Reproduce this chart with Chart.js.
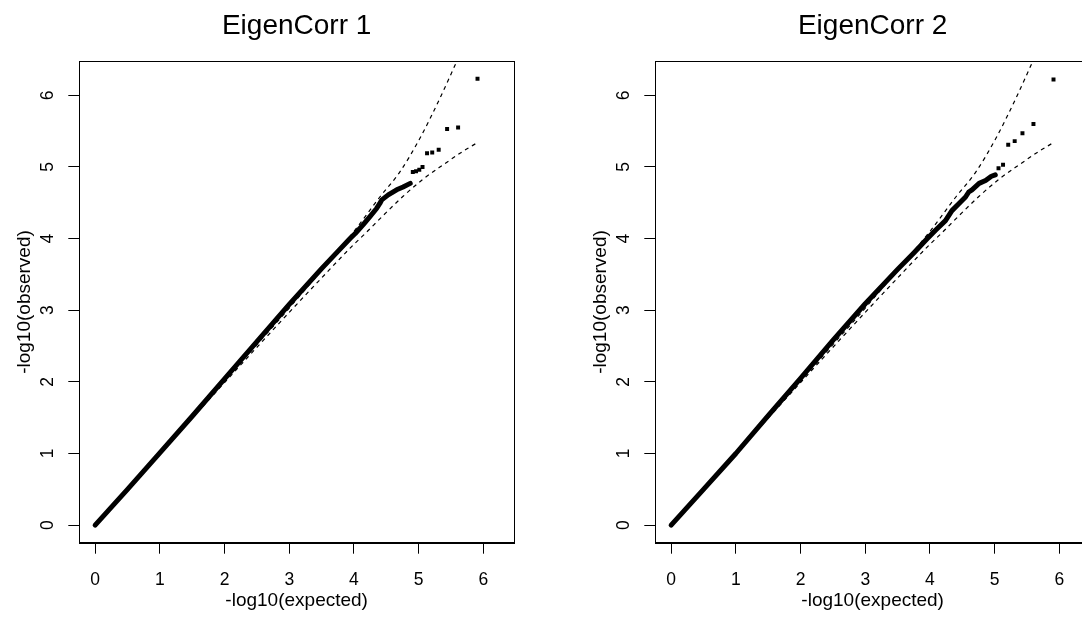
<!DOCTYPE html>
<html>
<head>
<meta charset="utf-8">
<script src="https://cdn.jsdelivr.net/npm/chart.js@4.4.1/dist/chart.umd.min.js"></script>
<style>
  html, body { margin: 0; padding: 0; background: #fff; width: 1082px; height: 624px; overflow: hidden; }
  .panel { position: absolute; top: 0; }
</style>
</head>
<body>
<canvas id="c1" class="panel" width="541" height="624" style="left:0px"></canvas>
<canvas id="c2" class="panel" width="541" height="624" style="left:576px"></canvas>
<script>
// ---- data ----
const panelTitles = ['EigenCorr 1', 'EigenCorr 2'];
const tickValues = [0, 1, 2, 3, 4, 5, 6];
const xLabel = '-log10(expected)';
const yLabel = '-log10(observed)';

// 95% confidence band (dashed), same in both panels
const ciUpperExp = [0, 1, 2, 2.5, 3, 3.5, 4.0, 4.4, 4.71, 5.02, 5.33, 5.59];
const ciUpperObs = [0, 1.0, 2.01, 2.52, 3.03, 3.56, 4.10, 4.58, 4.93, 5.40, 5.96, 6.474];
const ciLowerExp = [0, 2, 3, 3.5, 4.0, 4.14, 4.45, 4.76, 5.07, 5.38, 5.69, 5.91];
const ciLowerObs = [0, 1.99, 2.97, 3.45, 3.92, 4.04, 4.32, 4.59, 4.83, 5.03, 5.22, 5.34];

// Panel 1 observed (dense run and separate tail points)
const p1DenseExp = [0, 0.5, 1, 1.5, 2, 2.5, 3, 3.5, 3.73, 3.94, 4.02, 4.14, 4.25, 4.35, 4.40, 4.43, 4.53, 4.66, 4.76, 4.87];
const p1DenseObs = [0, 0.5, 1.01, 1.52, 2.04, 2.56, 3.08, 3.58, 3.80, 4.0, 4.07, 4.19, 4.31, 4.42, 4.49, 4.54, 4.61, 4.68, 4.72, 4.77];
const p1TailExp = [4.91, 4.96, 5.01, 5.06, 5.13, 5.21, 5.31, 5.44, 5.61, 5.91];
const p1TailObs = [4.93, 4.94, 4.96, 5.00, 5.19, 5.20, 5.24, 5.53, 5.55, 6.23];

// Panel 2 observed
const p2DenseExp = [0, 0.5, 1, 1.5, 2, 2.5, 3, 3.5, 3.75, 3.96, 4.09, 4.24, 4.34, 4.45, 4.55, 4.60, 4.65, 4.76, 4.86, 4.95, 5.01];
const p2DenseObs = [0, 0.5, 1.0, 1.53, 2.05, 2.58, 3.09, 3.57, 3.80, 4.0, 4.12, 4.25, 4.39, 4.49, 4.58, 4.65, 4.68, 4.77, 4.81, 4.87, 4.89];
const p2TailExp = [5.06, 5.13, 5.21, 5.31, 5.43, 5.60, 5.91];
const p2TailObs = [4.98, 5.03, 5.31, 5.36, 5.47, 5.60, 6.22];

const axisMin = -0.245, axisMax = 6.474;

// ---- helpers ----
const FONT = "'Liberation Sans', Arial, Helvetica, sans-serif";
const pts = (xs, ys) => xs.map((x, i) => ({ x: x, y: ys[i] }));

const boxPlugin = {
  id: 'box',
  afterDatasetsDraw(chart) {
    const a = chart.chartArea, ctx = chart.ctx;
    ctx.save();
    ctx.strokeStyle = '#000';
    ctx.lineWidth = 1;
    ctx.strokeRect(Math.round(a.left) + 0.5, Math.round(a.top) + 0.5,
                   Math.round(a.right) - Math.round(a.left), Math.round(a.bottom) - Math.round(a.top));
    ctx.restore();
  }
};

function makeChart(id, title, denseX, denseY, tailX, tailY) {
  const fixTicks = (s) => { s.ticks = tickValues.map(v => ({ value: v })); };
  new Chart(document.getElementById(id), {
    type: 'scatter',
    data: {
      datasets: [
        { data: pts(ciUpperExp, ciUpperObs), showLine: true, borderColor: '#000', borderWidth: 1.2,
          borderDash: [4, 4], pointRadius: 0, tension: 0.3, cubicInterpolationMode: 'monotone' },
        { data: pts(ciLowerExp, ciLowerObs), showLine: true, borderColor: '#000', borderWidth: 1.2,
          borderDash: [4, 4], pointRadius: 0, tension: 0.3, cubicInterpolationMode: 'monotone' },
        { data: pts(denseX, denseY), showLine: true, borderColor: '#000', borderWidth: 5,
          borderCapStyle: 'round', borderJoinStyle: 'round', pointRadius: 0 },
        { data: pts(tailX, tailY), showLine: false, pointStyle: 'rect', pointRadius: 2.8,
          backgroundColor: '#000', borderColor: '#000', borderWidth: 0 }
      ]
    },
    options: {
      responsive: false,
      animation: false,
      events: [],
      layout: { padding: { left: 0, right: 27, top: 0, bottom: 0 } },
      plugins: {
        legend: { display: false },
        tooltip: { enabled: false },
        title: {
          display: true, text: title, fullSize: false, color: '#000',
          font: { family: FONT, size: 28, weight: 'normal', lineHeight: 1.2 },
          padding: { top: 9.7, bottom: 18 }
        }
      },
      scales: {
        x: {
          type: 'linear', position: 'bottom', min: axisMin, max: axisMax,
          afterBuildTicks: fixTicks,
          afterFit: (s) => { s.height = 81.3; },
          ticks: { stepSize: 1, autoSkip: false, maxRotation: 0, minRotation: 0, padding: 16,
                   color: '#000', font: { family: FONT, size: 17.5 } },
          grid: { drawOnChartArea: false, drawTicks: true, tickLength: 11, color: '#000', lineWidth: 1 },
          border: { display: true, color: '#000', width: 1 },
          title: { display: true, text: xLabel, color: '#000',
                   font: { family: FONT, size: 19, lineHeight: 1.2 }, padding: { top: 0, bottom: 11.6 } }
        },
        y: {
          type: 'linear', position: 'left', min: axisMin, max: axisMax,
          afterBuildTicks: fixTicks,
          afterFit: (s) => { s.width = 79.3; },
          ticks: { stepSize: 1, autoSkip: false, minRotation: 90, maxRotation: 90, crossAlign: 'center',
                   padding: 15.5, color: '#000', font: { family: FONT, size: 17.5 } },
          grid: { drawOnChartArea: false, drawTicks: true, tickLength: 11, color: '#000', lineWidth: 1 },
          border: { display: true, color: '#000', width: 1 },
          title: { display: true, text: yLabel, color: '#000',
                   font: { family: FONT, size: 19, lineHeight: 1.2 }, padding: { top: 13.6, bottom: 0 } }
        }
      }
    },
    plugins: [boxPlugin]
  });
}

makeChart('c1', panelTitles[0], p1DenseExp, p1DenseObs, p1TailExp, p1TailObs);
makeChart('c2', panelTitles[1], p2DenseExp, p2DenseObs, p2TailExp, p2TailObs);
</script>
</body>
</html>
